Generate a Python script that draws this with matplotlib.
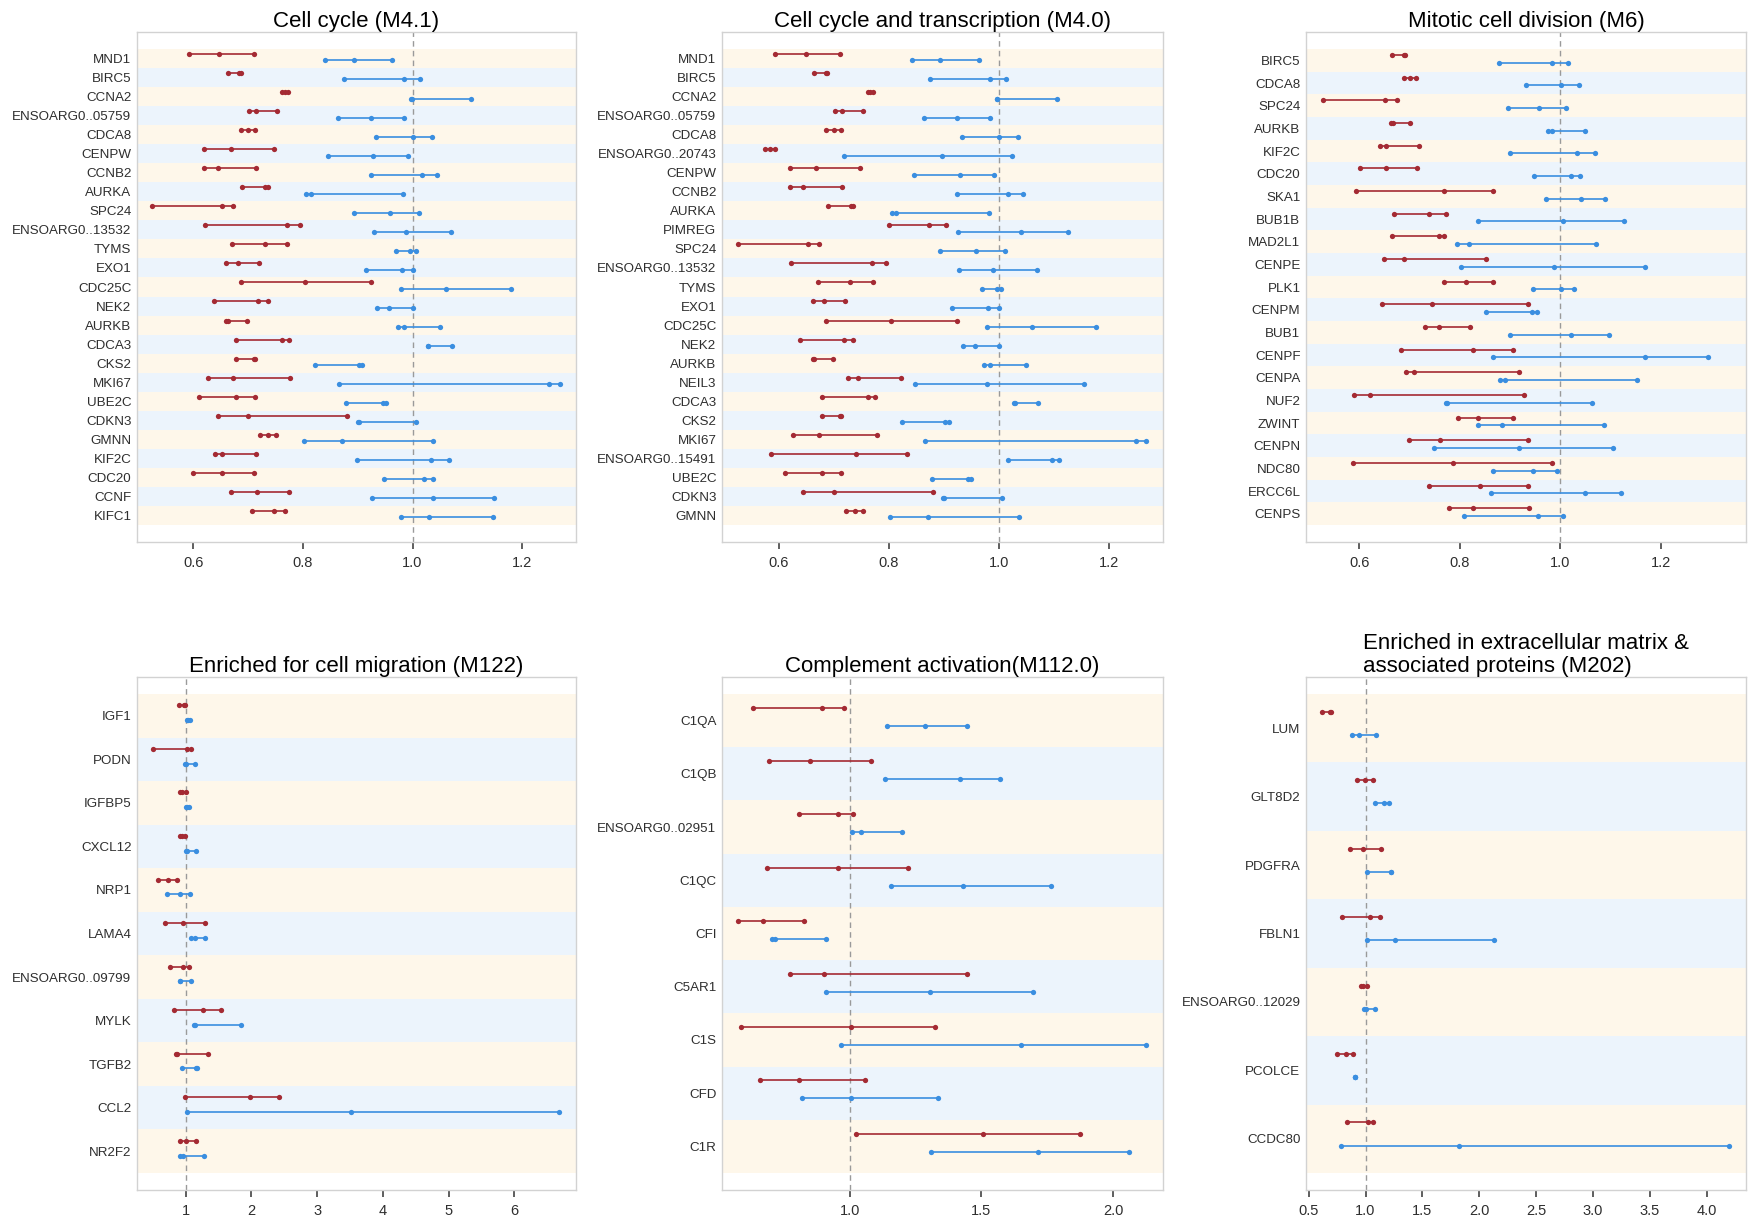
import matplotlib
matplotlib.use("Agg")
import matplotlib.pyplot as plt
from matplotlib import font_manager as fm

# ── 字型 / 顏色 ─────────────────────────────────────────────────────────────
def has_font(name):
    try:
        fm.findfont(fm.FontProperties(family=name), fallback_to_default=False)
        return True
    except ValueError:
        return False

# the original uses a narrow Arial; fall back to Liberation Sans at a smaller size
if has_font("Liberation Sans Narrow"):
    FAMILY = ["Liberation Sans Narrow", "DejaVu Sans"]
    LABEL_SIZE, TICK_SIZE, TITLE_SIZE = 11.5, 11.5, 19
else:
    FAMILY = ["Liberation Sans", "DejaVu Sans"]
    LABEL_SIZE, TICK_SIZE, TITLE_SIZE = 9.6, 10.5, 16
plt.rcParams["font.family"] = FAMILY

RED = "#A42A33"
BLUE = "#3A8EE0"
BAND_A = "#FEF7EA"
BAND_B = "#ECF4FC"
TXT = "#2E2E2E"

# ── 資料 (low, mid, high) ───────────────────────────────────────────────────
m41_genes = ["MND1", "BIRC5", "CCNA2", "ENSOARG0..05759", "CDCA8", "CENPW", "CCNB2",
             "AURKA", "SPC24", "ENSOARG0..13532", "TYMS", "EXO1", "CDC25C", "NEK2",
             "AURKB", "CDCA3", "CKS2", "MKI67", "UBE2C", "CDKN3", "GMNN", "KIF2C",
             "CDC20", "CCNF", "KIFC1"]
m41_red = [(0.592, 0.647, 0.710), (0.663, 0.684, 0.686), (0.762, 0.767, 0.772),
           (0.702, 0.714, 0.753), (0.686, 0.700, 0.713), (0.619, 0.668, 0.747),
           (0.619, 0.645, 0.714), (0.689, 0.731, 0.736), (0.524, 0.652, 0.673),
           (0.622, 0.770, 0.795), (0.670, 0.731, 0.770), (0.660, 0.681, 0.719),
           (0.686, 0.804, 0.925), (0.638, 0.718, 0.736), (0.660, 0.663, 0.698),
           (0.678, 0.762, 0.775), (0.678, 0.710, 0.712), (0.626, 0.673, 0.776),
           (0.610, 0.678, 0.712), (0.645, 0.700, 0.880), (0.721, 0.737, 0.751),
           (0.640, 0.652, 0.714), (0.599, 0.652, 0.710), (0.668, 0.716, 0.774),
           (0.707, 0.747, 0.767)]
m41_blue = [(0.841, 0.894, 0.963), (0.875, 0.984, 1.014), (0.997, 0.999, 1.106),
            (0.864, 0.924, 0.984), (0.933, 1.001, 1.035), (0.846, 0.928, 0.991),
            (0.924, 1.017, 1.045), (0.806, 0.814, 0.982), (0.893, 0.959, 1.012),
            (0.929, 0.989, 1.071), (0.970, 0.996, 1.006), (0.915, 0.980, 1.001),
            (0.979, 1.061, 1.179), (0.936, 0.957, 1.001), (0.974, 0.984, 1.050),
            (1.028, 1.029, 1.073), (0.822, 0.902, 0.908), (0.866, 1.250, 1.269),
            (0.878, 0.946, 0.951), (0.900, 0.902, 1.007), (0.802, 0.871, 1.037),
            (0.899, 1.033, 1.067), (0.948, 1.021, 1.037), (0.926, 1.037, 1.149),
            (0.979, 1.030, 1.147)]

m40_genes = ["MND1", "BIRC5", "CCNA2", "ENSOARG0..05759", "CDCA8", "ENSOARG0..20743",
             "CENPW", "CCNB2", "AURKA", "PIMREG", "SPC24", "ENSOARG0..13532", "TYMS",
             "EXO1", "CDC25C", "NEK2", "AURKB", "NEIL3", "CDCA3", "CKS2", "MKI67",
             "ENSOARG0..15491", "UBE2C", "CDKN3", "GMNN"]
m40_red = [(0.593, 0.649, 0.711), (0.664, 0.686, 0.688), (0.762, 0.767, 0.772),
           (0.703, 0.716, 0.754), (0.686, 0.701, 0.714), (0.576, 0.584, 0.593),
           (0.620, 0.668, 0.748), (0.620, 0.645, 0.716), (0.690, 0.732, 0.736),
           (0.801, 0.874, 0.904), (0.526, 0.653, 0.673), (0.622, 0.770, 0.796),
           (0.671, 0.730, 0.771), (0.662, 0.682, 0.720), (0.686, 0.805, 0.924),
           (0.639, 0.719, 0.736), (0.663, 0.664, 0.699), (0.726, 0.745, 0.822),
           (0.678, 0.763, 0.775), (0.678, 0.711, 0.714), (0.627, 0.673, 0.778),
           (0.586, 0.740, 0.833), (0.611, 0.678, 0.713), (0.645, 0.700, 0.880),
           (0.722, 0.738, 0.753)]
m40_blue = [(0.842, 0.894, 0.964), (0.875, 0.984, 1.014), (0.997, 0.998, 1.107),
            (0.864, 0.924, 0.984), (0.933, 1.000, 1.035), (0.718, 0.897, 1.024),
            (0.846, 0.929, 0.991), (0.924, 1.017, 1.044), (0.806, 0.814, 0.982),
            (0.926, 1.041, 1.127), (0.894, 0.959, 1.012), (0.928, 0.989, 1.070),
            (0.970, 0.997, 1.005), (0.916, 0.980, 1.001), (0.979, 1.060, 1.178),
            (0.936, 0.957, 1.001), (0.974, 0.984, 1.049), (0.848, 0.979, 1.155),
            (1.028, 1.029, 1.072), (0.824, 0.902, 0.909), (0.866, 1.249, 1.268),
            (1.018, 1.097, 1.109), (0.878, 0.945, 0.949), (0.899, 0.901, 1.007),
            (0.802, 0.871, 1.037)]

m6_genes = ["BIRC5", "CDCA8", "SPC24", "AURKB", "KIF2C", "CDC20", "SKA1", "BUB1B",
            "MAD2L1", "CENPE", "PLK1", "CENPM", "BUB1", "CENPF", "CENPA", "NUF2",
            "ZWINT", "CENPN", "NDC80", "ERCC6L", "CENPS"]
m6_red = [(0.666, 0.689, 0.691), (0.688, 0.701, 0.713), (0.527, 0.652, 0.674),
          (0.664, 0.668, 0.701), (0.642, 0.654, 0.718), (0.601, 0.654, 0.714),
          (0.594, 0.769, 0.865), (0.669, 0.739, 0.772), (0.665, 0.758, 0.768),
          (0.650, 0.689, 0.852), (0.769, 0.813, 0.865), (0.646, 0.744, 0.935),
          (0.731, 0.759, 0.820), (0.683, 0.826, 0.905), (0.693, 0.709, 0.917),
          (0.590, 0.621, 0.927), (0.796, 0.836, 0.905), (0.698, 0.761, 0.935),
          (0.588, 0.786, 0.983), (0.739, 0.841, 0.936), (0.779, 0.826, 0.938)]
m6_blue = [(0.877, 0.983, 1.016), (0.932, 1.001, 1.036), (0.896, 0.958, 1.011),
           (0.975, 0.983, 1.049), (0.900, 1.033, 1.069), (0.948, 1.021, 1.038),
           (0.971, 1.040, 1.089), (0.837, 1.005, 1.127), (0.795, 0.818, 1.070),
           (0.803, 0.988, 1.168), (0.946, 1.002, 1.026), (0.852, 0.943, 0.954),
           (0.900, 1.021, 1.097), (0.865, 1.168, 1.294), (0.879, 0.890, 1.152),
           (0.773, 0.774, 1.062), (0.837, 0.883, 1.087), (0.748, 0.917, 1.105),
           (0.865, 0.946, 0.993), (0.861, 1.048, 1.121), (0.808, 0.955, 1.006)]

m122_genes = ["IGF1", "PODN", "IGFBP5", "CXCL12", "NRP1", "LAMA4", "ENSOARG0..09799",
              "MYLK", "TGFB2", "CCL2", "NR2F2"]
m122_red = [(0.903, 0.971, 0.989), (0.502, 1.017, 1.086), (0.914, 0.949, 1.011),
            (0.914, 0.943, 0.989), (0.582, 0.737, 0.868), (0.691, 0.966, 1.292),
            (0.754, 0.966, 1.046), (0.828, 1.269, 1.543), (0.851, 0.874, 1.332),
            (0.983, 1.984, 2.424), (0.908, 1.000, 1.154)]
m122_blue = [(1.017, 1.034, 1.069), (0.989, 1.000, 1.143), (1.000, 1.023, 1.051),
             (1.011, 1.017, 1.160), (0.720, 0.914, 1.063), (1.080, 1.137, 1.292),
             (0.914, 0.920, 1.080), (1.120, 1.137, 1.835), (0.949, 1.154, 1.177),
             (1.023, 3.517, 6.681), (0.920, 0.954, 1.275)]

m112_genes = ["C1QA", "C1QB", "ENSOARG0..02951", "C1QC", "CFI", "C5AR1", "C1S", "CFD",
              "C1R"]
m112_red = [(0.632, 0.896, 0.979), (0.694, 0.849, 1.080), (0.806, 0.954, 1.013),
            (0.685, 0.954, 1.220), (0.575, 0.669, 0.825), (0.772, 0.904, 1.445),
            (0.587, 1.006, 1.325), (0.661, 0.806, 1.056), (1.025, 1.507, 1.873)]
m112_blue = [(1.141, 1.286, 1.445), (1.132, 1.420, 1.570), (1.007, 1.041, 1.200),
             (1.155, 1.430, 1.763), (0.703, 0.718, 0.911), (0.910, 1.304, 1.696),
             (0.968, 1.651, 2.123), (0.818, 1.003, 1.335), (1.308, 1.714, 2.061)]

m202_genes = ["LUM", "GLT8D2", "PDGFRA", "FBLN1", "ENSOARG0..12029", "PCOLCE", "CCDC80"]
m202_red = [(0.619, 0.690, 0.694), (0.928, 0.993, 1.062), (0.860, 0.980, 1.140),
            (0.792, 1.039, 1.127), (0.958, 0.980, 1.013), (0.750, 0.824, 0.889),
            (0.837, 1.023, 1.068)]
m202_blue = [(0.880, 0.938, 1.094), (1.081, 1.159, 1.208), (1.016, 1.221, 1.228),
             (1.016, 1.257, 2.129), (0.990, 1.003, 1.081), (0.906, 0.906, 0.906),
             (0.782, 1.820, 4.201)]

# ── 版面 ─────────────────────────────────────────────────────────────────────
W, H = 1749, 1226
fig = plt.figure(figsize=(W / 100, H / 100), dpi=100)

COLS = [(137, 576), (722, 1163), (1306, 1746)]
ROWS = [(32, 542), (677, 1190)]

panels = [
    ("Cell cycle (M4.1)", m41_genes, m41_red, m41_blue, (0.497, 1.2985),
     [0.6, 0.8, 1.0, 1.2], ["0.6", "0.8", "1.0", "1.2"]),
    ("Cell cycle and transcription (M4.0)", m40_genes, m40_red, m40_blue, (0.497, 1.299),
     [0.6, 0.8, 1.0, 1.2], ["0.6", "0.8", "1.0", "1.2"]),
    ("Mitotic cell division (M6)", m6_genes, m6_red, m6_blue, (0.494, 1.369),
     [0.6, 0.8, 1.0, 1.2], ["0.6", "0.8", "1.0", "1.2"]),
    ("Enriched for cell migration (M122)", m122_genes, m122_red, m122_blue, (0.259, 6.939),
     [1, 2, 3, 4, 5, 6], ["1", "2", "3", "4", "5", "6"]),
    ("Complement activation(M112.0)", m112_genes, m112_red, m112_blue, (0.515, 2.189),
     [1.0, 1.5, 2.0], ["1.0", "1.5", "2.0"]),
    ("Enriched in extracellular matrix &\nassociated proteins (M202)", m202_genes,
     m202_red, m202_blue, (0.476, 4.347),
     [0.5, 1.0, 1.5, 2.0, 2.5, 3.0, 3.5, 4.0],
     ["0.5", "1.0", "1.5", "2.0", "2.5", "3.0", "3.5", "4.0"]),
]


def draw_panel(ax, title, genes, red, blue, xlim, ticks, ticklabels, hpx):
    n = len(genes)
    gap = 17
    p = gap * n / (hpx - 2 * gap)
    for i in range(n):
        ax.axhspan(i - 0.5, i + 0.5, color=BAND_A if i % 2 == 0 else BAND_B,
                   lw=0, zorder=0)
    ax.axvline(1.0, color="#9A9A9A", lw=1.0, ls=(0, (4, 3)), zorder=1)
    for i in range(n):
        for vals, col, off in ((red[i], RED, -0.24), (blue[i], BLUE, 0.10)):
            y = i + off
            ax.plot([vals[0], vals[2]], [y, y], color=col, lw=1.2, zorder=2,
                    solid_capstyle="butt")
            ax.plot(vals, [y] * 3, "o", color=col, ms=3.8, mew=0, zorder=3)
    ax.set_ylim(n - 0.5 + p, -0.5 - p)
    ax.set_xlim(*xlim)
    ax.set_yticks(range(n))
    ax.set_yticklabels(genes)
    ax.set_xticks(ticks)
    ax.set_xticklabels(ticklabels)
    ax.tick_params(axis="y", length=0, pad=4, labelsize=LABEL_SIZE, labelcolor=TXT)
    ax.tick_params(axis="x", length=5, width=1.1, color="#333333", pad=5,
                   labelsize=TICK_SIZE, labelcolor=TXT)
    for s in ax.spines.values():
        s.set_color("#D2D2D2")
        s.set_linewidth(1.0)
    ax.set_title(title, fontsize=TITLE_SIZE, pad=2, multialignment="left",
                 linespacing=1.15, color="black")


for k, (title, genes, red, blue, xlim, ticks, tl) in enumerate(panels):
    r, c = divmod(k, 3)
    x0, x1 = COLS[c]
    y0, y1 = ROWS[r]
    ax = fig.add_axes([x0 / W, 1 - y1 / H, (x1 - x0) / W, (y1 - y0) / H])
    draw_panel(ax, title, genes, red, blue, xlim, ticks, tl, y1 - y0)

fig.savefig("out.png", dpi=100, facecolor="white")
